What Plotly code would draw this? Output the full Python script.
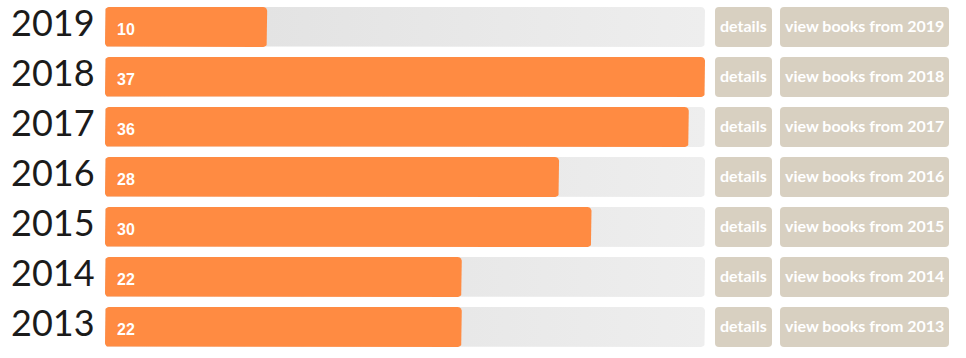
import math
import plotly.graph_objects as go

years = [2019, 2018, 2017, 2016, 2015, 2014, 2013]
counts = [10, 37, 36, 28, 30, 22, 22]
details_labels = ["details"] * len(years)
view_labels = [f"view books from {y}" for y in years]

W, H = 966, 358
X0_PX, X1_PX = 105, 705          # pixel span of the track (0 .. max)
ROW0_PX, PITCH = 27, 50           # first row centre, row pitch
VMAX = max(counts)
KX = VMAX / (X1_PX - X0_PX)       # data units per pixel (x)
KY = 1 / PITCH                    # data units per pixel (y)
BAR_H = 0.8
R = 4

ORANGE = "#ff8b42"
BTN = "#d8d0c1"

fig = go.Figure()


def rrect(x0, x1, y0, y1, rx, ry, n=6):
    pts = []
    corners = [(x1 - rx, y0 + ry, -90), (x1 - rx, y1 - ry, 0),
               (x0 + rx, y1 - ry, 90), (x0 + rx, y0 + ry, 180)]
    for cx, cy, a0 in corners:
        for k in range(n + 1):
            a = math.radians(a0 + 90 * k / n)
            pts.append((cx + rx * math.cos(a), cy + ry * math.sin(a)))
    pts.append(pts[0])
    return pts


# --- tracks (gradient background) ---
tx, ty = [], []
for i in range(len(years)):
    pts = rrect(0, VMAX, i - BAR_H / 2, i + BAR_H / 2, R * KX, R * KY)
    tx += [p[0] for p in pts] + [None]
    ty += [p[1] for p in pts] + [None]
fig.add_trace(go.Scatter(
    x=tx, y=ty, mode="lines", line=dict(width=0), fill="toself",
    fillgradient=dict(type="horizontal", colorscale=[[0, "#dfdfdf"], [1, "#eeeeee"]]),
    hoverinfo="skip", showlegend=False))

# --- orange bars (rounded rectangles in data coordinates) ---
for i, (yr, c) in enumerate(zip(years, counts)):
    pts = rrect(0, c, i - BAR_H / 2, i + BAR_H / 2, R * KX, R * KY)
    fig.add_trace(go.Scatter(
        x=[p[0] for p in pts], y=[p[1] for p in pts], mode="lines",
        line=dict(width=0), fill="toself", fillcolor=ORANGE,
        name=str(yr), hoveron="fills", hoverinfo="name", showlegend=False))

annotations = []
shapes = []


def px2paper(p):
    return p / W


def rpath(x0, x1, y0, y1, rx, ry):
    return (f"M {x0+rx},{y0} L {x1-rx},{y0} Q {x1},{y0} {x1},{y0+ry} "
            f"L {x1},{y1-ry} Q {x1},{y1} {x1-rx},{y1} L {x0+rx},{y1} "
            f"Q {x0},{y1} {x0},{y1-ry} L {x0},{y0+ry} Q {x0},{y0} {x0+rx},{y0} Z")


for i, (yr, c) in enumerate(zip(years, counts)):
    # year label
    annotations.append(dict(x=px2paper(9), xref="paper", xanchor="left",
                            y=i, yref="y", yanchor="middle", yshift=5,
                            text=str(yr), showarrow=False,
                            font=dict(family="Lato", size=36, color="#1b1b1b")))
    # value label
    annotations.append(dict(x=0, xref="x", xanchor="left", xshift=10,
                            y=i, yref="y", yanchor="middle", yshift=-2,
                            text=f"<b>{c}</b>", showarrow=False,
                            font=dict(family="Liberation Sans", size=16, color="white")))
    # buttons
    y0, y1 = i - BAR_H / 2, i + BAR_H / 2
    for (bx0, bx1, label) in [(715, 772, details_labels[i]), (780, 949, view_labels[i])]:
        shapes.append(dict(type="path", xref="paper", yref="y",
                           path=rpath(px2paper(bx0), px2paper(bx1), y0, y1, R / W, R * KY),
                           fillcolor=BTN, line=dict(width=0), layer="below"))
        annotations.append(dict(x=px2paper((bx0 + bx1) / 2), xref="paper", xanchor="center",
                                y=i, yref="y", yanchor="middle", yshift=2,
                                text=f"<b>{label}</b>", showarrow=False,
                                font=dict(family="Lato", size=16, color="white")))

fig.update_layout(
    width=W, height=H, margin=dict(l=0, r=0, t=0, b=0),
    paper_bgcolor="white", plot_bgcolor="white",
    xaxis=dict(range=[-X0_PX * KX, (W - X0_PX) * KX], visible=False, fixedrange=True),
    yaxis=dict(range=[(H - ROW0_PX) / PITCH, -ROW0_PX / PITCH], visible=False, fixedrange=True),
    shapes=shapes, annotations=annotations, showlegend=False,
)

fig.write_html("out.html")
